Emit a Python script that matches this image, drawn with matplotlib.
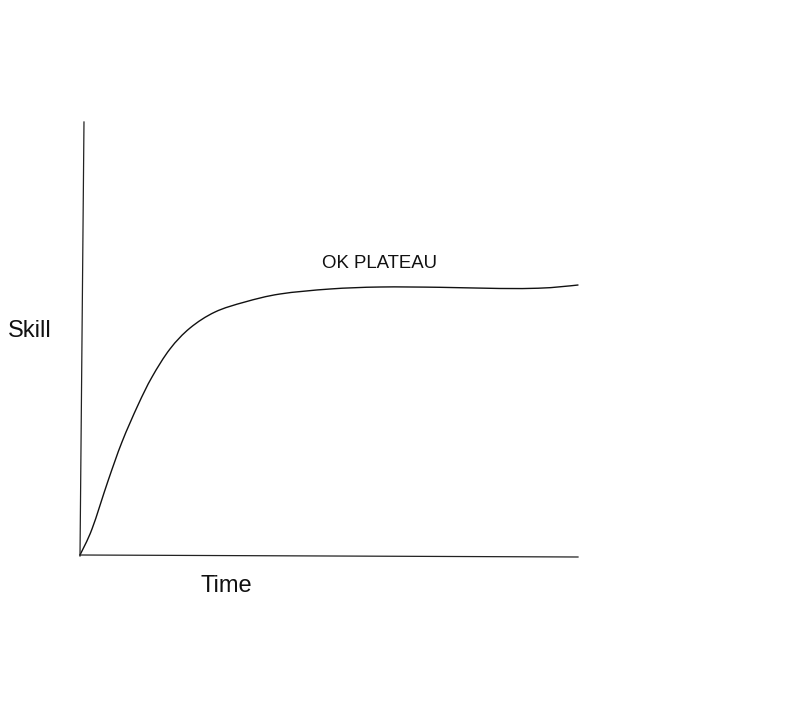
import matplotlib
matplotlib.use("Agg")
import matplotlib.pyplot as plt
from matplotlib.path import Path
from matplotlib.patches import PathPatch

# Learning curve (time in arbitrary units 0..10, skill 0..100)
time = [0.0, 0.241, 0.562, 0.843, 1.165, 1.446, 1.807, 2.209, 2.711, 3.313,
        4.016, 5.020, 6.024, 7.229, 8.434, 9.200, 9.639, 10.0]
skill = [0.23, 6.22, 17.28, 26.27, 34.79, 41.24, 47.70, 52.53, 56.22, 58.53,
         60.37, 61.52, 61.98, 61.91, 61.64, 61.70, 62.03, 62.44]

# hand-drawn axes
yaxis_t = [0.0, 0.08]
yaxis_s = [0.0, 100.0]
xaxis_t = [0.0, 10.0]
xaxis_s = [0.23, -0.23]

label_plateau = "OK PLATEAU"
label_y = "Skill"
label_x = "Time"

plt.rcParams['font.family'] = ['Liberation Sans', 'DejaVu Sans']

fig = plt.figure(figsize=(8, 7.2), dpi=100)
ax = fig.add_axes([0, 0, 1, 1])
ax.set_xlim(-80 / 49.8, 720 / 49.8)
ax.set_ylim(-(720 - 556) / 4.34, 556 / 4.34)
ax.axis('off')

ax.plot(yaxis_t, yaxis_s, color='#222222', lw=0.9)
ax.plot(xaxis_t, xaxis_s, color='#222222', lw=0.9)


def smooth_path(xs, ys):
    # Catmull-Rom spline through the points, expressed as cubic Bezier segments
    pts = list(zip(xs, ys))
    verts = [pts[0]]
    codes = [Path.MOVETO]
    n = len(pts)
    for i in range(n - 1):
        p0 = pts[i - 1] if i > 0 else pts[i]
        p1 = pts[i]
        p2 = pts[i + 1]
        p3 = pts[i + 2] if i + 2 < n else pts[i + 1]
        c1 = (p1[0] + (p2[0] - p0[0]) / 6, p1[1] + (p2[1] - p0[1]) / 6)
        c2 = (p2[0] - (p3[0] - p1[0]) / 6, p2[1] - (p3[1] - p1[1]) / 6)
        verts += [c1, c2, p2]
        codes += [Path.CURVE4] * 3
    return Path(verts, codes)


ax.add_patch(PathPatch(smooth_path(time, skill), facecolor='none',
                       edgecolor='#111111', lw=1.0, capstyle='round'))

ax.text(4.86, 66.36, label_plateau, fontsize=13.4, ha='left', va='baseline', color='#111111')
ax.text(-1.44, 50.4, label_y, fontsize=17, ha='left', va='baseline', color='#111111')
ax.text(2.41, -8.36, label_x, fontsize=17, ha='left', va='baseline', color='#111111')

fig.savefig("out.png", dpi=100)
